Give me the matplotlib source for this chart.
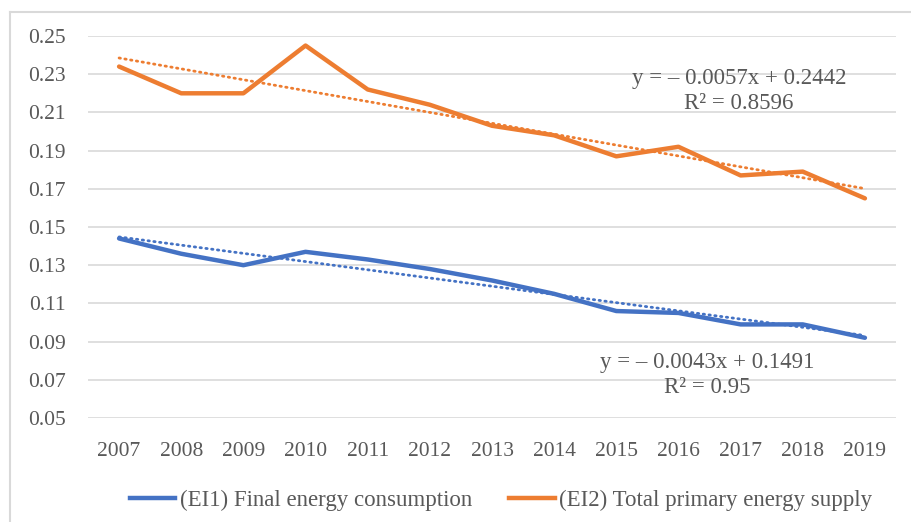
import matplotlib
matplotlib.use("Agg")

import matplotlib.pyplot as plt
from matplotlib.lines import Line2D

years = ["2007", "2008", "2009", "2010", "2011", "2012", "2013",
         "2014", "2015", "2016", "2017", "2018", "2019"]

ei1 = [0.144, 0.136, 0.130, 0.137, 0.133, 0.128, 0.122,
       0.115, 0.106, 0.105, 0.099, 0.099, 0.092]
ei2 = [0.234, 0.220, 0.220, 0.245, 0.222, 0.214, 0.203,
       0.198, 0.187, 0.192, 0.177, 0.179, 0.165]

# trendline coefficients (as shown on chart), x = 1..13
ei1_slope, ei1_icpt, ei1_r2 = -0.0043, 0.1491, "0.95"
ei2_slope, ei2_icpt, ei2_r2 = -0.0057, 0.2442, "0.8596"

yticks = [0.05, 0.07, 0.09, 0.11, 0.13, 0.15, 0.17, 0.19, 0.21, 0.23, 0.25]

blue = "#4472C4"
orange = "#ED7D31"
txt = "#595959"

plt.rcParams["font.family"] = ["Liberation Serif", "DejaVu Serif"]

fig = plt.figure(figsize=(9.11, 5.22), dpi=100)
W, H = 911, 522
ax = fig.add_axes([88 / W, 1 - 418 / H, (896 - 88) / W, (418 - 36) / H])

x = list(range(len(years)))
xt = [i + 1 for i in x]

ax.plot(x, ei1, color=blue, lw=3.2, solid_capstyle="round", zorder=3)
ax.plot(x, ei2, color=orange, lw=3.2, solid_capstyle="round", zorder=3)
ax.plot(x, [ei1_slope * t + ei1_icpt for t in xt], color=blue, lw=2,
        linestyle=(0, (0.5, 1.6)), dash_capstyle="round", zorder=2)
ax.plot(x, [ei2_slope * t + ei2_icpt for t in xt], color=orange, lw=2,
        linestyle=(0, (0.5, 1.6)), dash_capstyle="round", zorder=2)

ax.set_xlim(-0.5, len(years) - 0.5)
ax.set_ylim(0.05, 0.25)
ax.set_yticks(yticks)
ax.set_yticklabels([f"{v:.2f}" for v in yticks])
ax.set_xticks(x)
ax.set_xticklabels(years)
ax.tick_params(length=0, labelsize=15.5, colors=txt)
ax.tick_params(axis="x", pad=17)
ax.tick_params(axis="y", pad=16)
ax.grid(axis="y", color="#D9D9D9", lw=1.2)
ax.set_axisbelow(True)
for s in ax.spines.values():
    s.set_visible(False)

ax.text(9.97, 0.2212, f"y = \u2013 {abs(ei2_slope):.4f}x + {ei2_icpt:.4f}\nR\u00b2 = {ei2_r2}",
        ha="center", va="center", fontsize=16.5, color=txt, linespacing=1.3)
ax.text(9.46, 0.0725, f"y = \u2013 {abs(ei1_slope):.4f}x + {ei1_icpt:.4f}\nR\u00b2 = {ei1_r2}",
        ha="center", va="center", fontsize=16.5, color=txt, linespacing=1.3)

handles = [Line2D([], [], color=blue, lw=3.2),
           Line2D([], [], color=orange, lw=3.2)]
fig.legend(handles, ["(EI1) Final energy consumption",
                     "(EI2) Total primary energy supply"],
           loc="center", bbox_to_anchor=(501 / W, 1 - 500 / H), ncol=2,
           frameon=False, fontsize=16.5, labelcolor=txt, handlelength=2.0,
           handletextpad=0.2, columnspacing=1.6)

# outer chart border (runs off right and bottom edges)
fig.add_artist(Line2D([10 / W, 10 / W], [0, 1 - 12 / H], transform=fig.transFigure,
                      color="#D9D9D9", lw=1.5))
fig.add_artist(Line2D([10 / W, 1], [1 - 12 / H, 1 - 12 / H], transform=fig.transFigure,
                      color="#D9D9D9", lw=1.5))

fig.savefig("out.png", dpi=100)
